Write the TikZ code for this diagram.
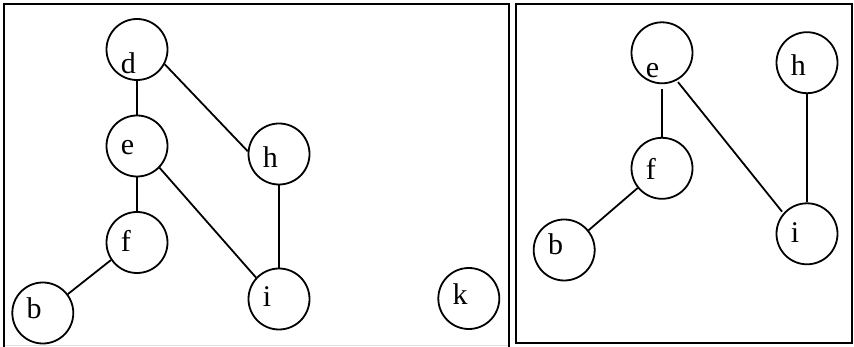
\documentclass[tikz,border=0pt]{standalone}
\usepackage{fontspec}
\setmainfont{Liberation Serif}
\begin{document}
\begin{tikzpicture}[x=1pt, y=-1pt,
  vtx/.style={circle, draw, line width=1.8pt, minimum size=61pt, inner sep=0pt},
  lab/.style={anchor=base west, inner sep=0pt, xshift=15pt, font=\fontsize{30}{32}\selectfont},
  edge/.style={line width=1.8pt},
  frame/.style={line width=2pt}]
\useasboundingbox (0,0) rectangle (854,347);

% outer frames
\draw[frame] (4,348) -- (4,4) -- (509,4) -- (509,348);
\draw[line width=1pt, black!12] (5,345.5) -- (508,345.5);
\draw[frame] (516,4) rectangle (852,343);

% first graph
\node[vtx, label={[lab, yshift=-23.8pt]west:d}] (d) at (137,49.5) {};
\node[vtx, label={[lab, yshift=-8.5pt]west:e}]  (e) at (137,146) {};
\node[vtx, label={[lab, yshift=-9.2pt]west:f}]  (f) at (137,242.5) {};
\node[vtx, label={[lab, yshift=-5.3pt]west:b}]  (b) at (42.8,313) {};
\node[vtx, label={[lab, yshift=-13.7pt]west:h}] (h) at (279,154) {};
\node[vtx, label={[lab, yshift=-7.7pt]west:i}]  (i) at (279,299) {};
\node[vtx, label={[lab, yshift=-6.5pt]west:k}]  (k) at (468.8,298.5) {};

\draw[edge] (d) -- (e);
\draw[edge] (e) -- (f);
\draw[edge] (d.-28.6) -- (h.175.8);
\draw[edge] (e.-44) -- (i.137.5);
\draw[edge] (f.214.4) -- (b.37.3);
\draw[edge] (h) -- (i);

% second graph
\node[vtx, label={[lab, yshift=-25pt]west:e}]   (e2) at (662,52.8) {};
\node[vtx, label={[lab, yshift=-11.7pt]west:f}] (f2) at (662,168.3) {};
\node[vtx, label={[lab, yshift=-5pt]west:b}]    (b2) at (564.2,250) {};
\node[vtx, label={[lab, yshift=-13.3pt]west:h}] (h2) at (807,62.7) {};
\node[vtx, label={[lab, yshift=-8.5pt]west:i}]  (i2) at (807,233.8) {};

\draw[edge, shorten <=5pt] (e2) -- (f2);
\draw[edge, shorten <=2pt, shorten >=2pt] (e2.-62.3) -- (i2.139.4);
\draw[edge] (f2.219.5) -- (b2.39.3);
\draw[edge] (h2) -- (i2);
\end{tikzpicture}
\end{document}
